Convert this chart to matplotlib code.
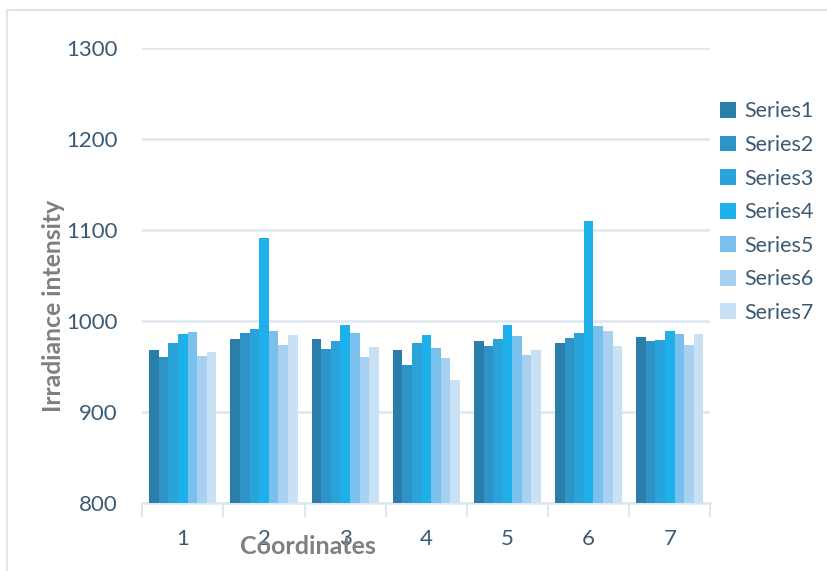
import numpy as np
import matplotlib.pyplot as plt
from matplotlib.patches import Rectangle

coords = ['1', '2', '3', '4', '5', '6', '7']
series_names = ['Series1', 'Series2', 'Series3', 'Series4', 'Series5', 'Series6', 'Series7']
s1 = [968, 980, 980, 968, 978, 976, 982]
s2 = [960, 987, 969, 952, 973, 981, 978]
s3 = [976, 991, 978, 976, 980, 987, 979]
s4 = [986, 1091, 996, 985, 996, 1110, 989]
s5 = [988, 989, 987, 970, 984, 995, 986]
s6 = [962, 974, 960, 959, 963, 989, 974]
s7 = [966, 985, 971, 935, 968, 973, 986]
series = [s1, s2, s3, s4, s5, s6, s7]
colors = ['#2a7ea9', '#2e93c6', '#2aa2da', '#1eb0ea', '#79c0ec', '#a8d1f1', '#c8e1f5']

plt.rcParams['font.family'] = ['Lato', 'DejaVu Sans']
fig = plt.figure(figsize=(8.27, 5.71), dpi=100)
ax = fig.add_axes([0.172, 0.119, 0.687, 0.797])

x = np.arange(len(coords))
w = 0.118
for i, vals in enumerate(series):
    ax.bar(x + (i - 3) * w, np.array(vals) - 800, bottom=800, width=w,
           color=colors[i], label=series_names[i], zorder=3)

ax.set_ylim(800, 1300)
ax.set_xlim(-0.5, 6.5)
ax.set_yticks(range(800, 1301, 100))
ax.grid(axis='y', color='#dde7f1', lw=1.8, zorder=0)
for s in ['top', 'right', 'left']:
    ax.spines[s].set_visible(False)
ax.spines['bottom'].set_color('#dde7f1')
ax.spines['bottom'].set_linewidth(1.8)
ax.set_xticks(x)
ax.set_xticklabels(coords)
ax.set_xticks(np.arange(-0.5, 7, 1), minor=True)
ax.tick_params(axis='x', which='major', length=0, pad=19, labelsize=16, labelcolor='#3b5a75')
ax.tick_params(axis='x', which='minor', length=10, width=1.5, color='#dde7f1')
ax.tick_params(axis='y', length=0, pad=18, labelsize=16, labelcolor='#3b5a75')
ax.set_xlabel('Coordinates', fontsize=18, fontweight='bold', color='#7f7f7f', labelpad=-9)
ax.xaxis.set_label_coords(0.292, -0.07)
ax.set_ylabel('Irradiance intensity', fontsize=17.8, fontweight='bold', color='#7f7f7f')
ax.yaxis.set_label_coords(-0.136, 0.433)

ax.legend(loc='upper left', bbox_to_anchor=(0.983, 0.925), frameon=False, fontsize=15.5,
          labelcolor='#3b5a75', handlelength=0.75, handleheight=0.75, handletextpad=0.35,
          labelspacing=0.63)

fig.patches.append(Rectangle((0.009, -0.1), 1.2, 1.082, transform=fig.transFigure,
                             fill=False, edgecolor='#dde7f1', lw=1.5))

fig.savefig('out.png', dpi=100)
